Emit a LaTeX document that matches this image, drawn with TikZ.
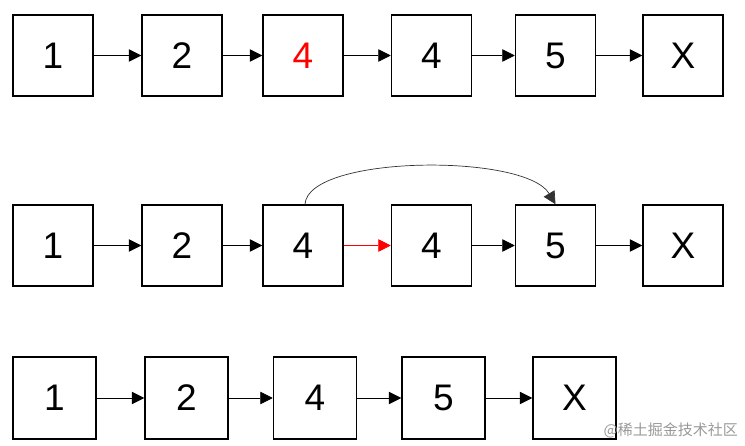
\documentclass[tikz,border=0pt]{standalone}
\usepackage{fontspec}
\setmainfont{Liberation Sans}
\newfontfamily\cjk{Noto Sans CJK SC}
\usetikzlibrary{arrows.meta}
\begin{document}
\begin{tikzpicture}[x=1pt,y=-1pt,
  box/.style={draw=black,line width=1.5pt,minimum width=80pt,minimum height=81pt,inner sep=0pt,font=\fontsize{37}{37}\selectfont},
  bigbox/.style={box,minimum width=83pt,minimum height=82pt},
  link/.style={draw=black,line width=0.8pt,-{Triangle[length=12.5pt,width=12.5pt]}},
  redlink/.style={draw=red,line width=0.5pt,-{Triangle[length=12.5pt,width=12.5pt]},red}]
\useasboundingbox (0,0) rectangle (745,446);
% row 1
\node[box] (a1) at (53,55.5) {1};
\node[box] (a2) at (182,55.5) {2};
\node[box,text=red] (a3) at (303,55.5) {4};
\node[box] (a4) at (431.5,55.5) {4};
\node[box] (a5) at (555.5,55.5) {5};
\node[box] (a6) at (683,55.5) {X};
\draw[link] (a1) -- (a2);
\draw[link] (a2) -- (a3);
\draw[link] (a3) -- (a4);
\draw[link] (a4) -- (a5);
\draw[link] (a5) -- (a6);
% row 2
\node[box] (b1) at (53,245.5) {1};
\node[box] (b2) at (182,245.5) {2};
\node[box] (b3) at (303,245.5) {4};
\node[box] (b4) at (431.5,245.5) {4};
\node[box] (b5) at (555.5,245.5) {5};
\node[box] (b6) at (683,245.5) {X};
\draw[link] (b1) -- (b2);
\draw[link] (b2) -- (b3);
\draw[redlink] (b3) -- (b4);
\draw[link] (b4) -- (b5);
\draw[link] (b5) -- (b6);
\coordinate (cs) at ([xshift=2pt]b3.north);
\draw[link,line width=0.7pt,draw=black!80] (cs) .. controls (308,155) and (525,153) .. (b5.north);
% row 3
\node[bigbox] (c1) at (54.5,398) {1};
\node[bigbox] (c2) at (186.5,398) {2};
\node[bigbox] (c3) at (315,398) {4};
\node[bigbox] (c4) at (443.5,398) {5};
\node[bigbox] (c5) at (574.5,398) {X};
\draw[link] (c1) -- (c2);
\draw[link] (c2) -- (c3);
\draw[link] (c3) -- (c4);
\draw[link] (c4) -- (c5);
% watermark
\node[text=black!40,font=\cjk\fontsize{15}{15}\selectfont,anchor=east,inner sep=0pt] (wm) at (738,430) {@稀土掘金技术社区};
\end{tikzpicture}
\end{document}
